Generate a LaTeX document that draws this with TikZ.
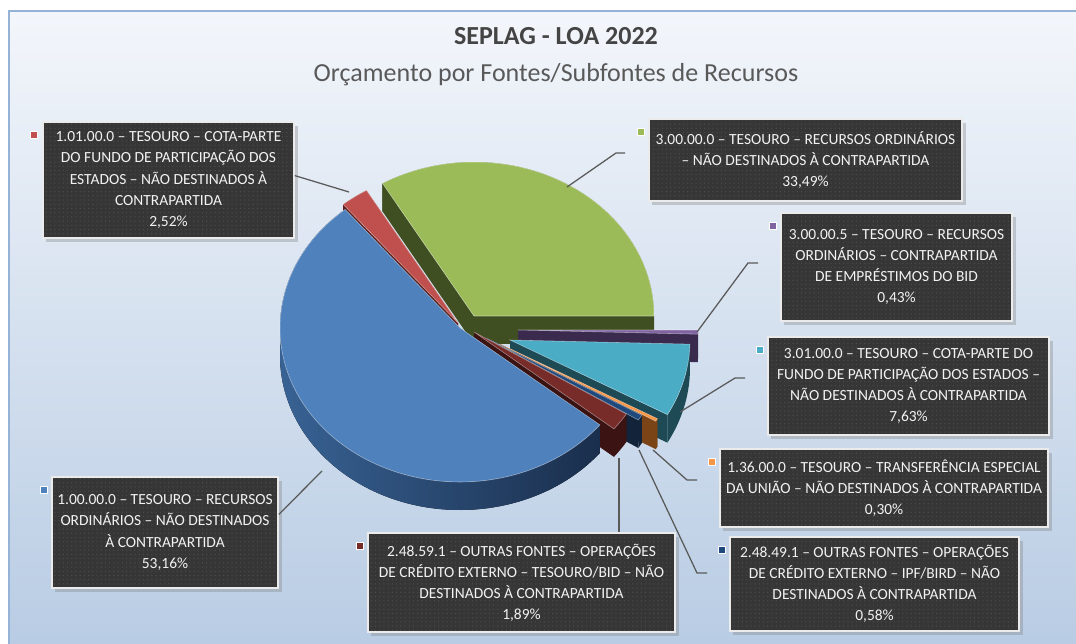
\documentclass[tikz,border=0pt]{standalone}
\usepackage{fontspec}
\setmainfont{Carlito}
\usetikzlibrary{calc, shadows, patterns}

\definecolor{bgtop}{HTML}{F3F6FB}
\definecolor{bgbot}{HTML}{B7CBE3}
\definecolor{framebl}{HTML}{95B3D7}
\definecolor{boxfill}{HTML}{363636}
\definecolor{boxdot}{HTML}{4C4C4C}
\definecolor{leadgray}{HTML}{5A5A5A}
\definecolor{titlegray}{HTML}{444444}
\definecolor{subgray}{HTML}{595959}
\definecolor{grtop}{HTML}{9BBB59}\definecolor{grside}{HTML}{3F4F22}
\definecolor{rdtop}{HTML}{C0504D}\definecolor{rdside}{HTML}{5E1E1C}
\definecolor{bltop}{HTML}{4F81BD}\definecolor{blsideA}{HTML}{3A6699}\definecolor{blsideB}{HTML}{1A2E4C}
\definecolor{mrtop}{HTML}{772C2A}\definecolor{mrside}{HTML}{3A1312}
\definecolor{nvtop}{HTML}{1F497D}\definecolor{nvside}{HTML}{13233A}
\definecolor{ortop}{HTML}{F79646}\definecolor{orside}{HTML}{7A4416}
\definecolor{cytop}{HTML}{4BACC6}\definecolor{cyside}{HTML}{1D4A55}
\definecolor{pptop}{HTML}{8064A2}\definecolor{ppside}{HTML}{3A2B4E}

% #1 shift, #2 from, #3 to, #4 top colour, #5 side options
\newcommand{\pieslice}[5]{%
  \begin{scope}[shift={(#1)}]
    \fill[#5] (466,332) -- ++(0,28) -- ++(-#2:180 and 154) -- ++(0,-28) -- cycle;
    \fill[#5] (466,332) -- ++(0,28) -- ++(-#3:180 and 154) -- ++(0,-28) -- cycle;
    \fill[#5] (466,332) ++(-#2:180 and 154)
      arc[start angle=-#2, end angle=-#3, x radius=180, y radius=154] -- ++(0,28)
      arc[start angle=-#3, end angle=-#2, x radius=180, y radius=154] -- cycle;
    \filldraw[fill=#4, draw=white, draw opacity=.45, line width=.4pt] (466,332) -- ++(-#2:180 and 154)
      arc[start angle=-#2, end angle=-#3, x radius=180, y radius=154] -- cycle;
  \end{scope}}

\begin{document}
\begin{tikzpicture}[
    x=.025cm, y=-.025cm,
    lbl/.style={
        draw=white!92!black, line width=1.1pt, text=white!95!black, align=center,
        font=\fontsize{11}{15}\selectfont, inner sep=2pt,
        drop shadow={shadow xshift=2.5pt, shadow yshift=-2.5pt, opacity=.35},
        preaction={fill=boxfill}, pattern=dots, pattern color=boxdot
    },
    key/.style={
        fill=#1, draw=white, line width=.5pt, inner sep=0pt, minimum size=.17cm
    },
    lead/.style={
        draw=leadgray, line width=.9pt
    }
]

    \useasboundingbox (0,0) rectangle (1076,643);
    \fill[white] (0,0) rectangle (1076,643);
    \fill[top color=bgtop, bottom color=bgbot] (9,11) rectangle (1090,660);
    \draw[framebl, line width=1.5pt] (9,11) rectangle (1090,660);

    \node[font=\fontsize{18.5}{22}\selectfont\bfseries, text=titlegray, anchor=base] (t1) at (556,45) {SEPLAG - LOA 2022};
    \node[font=\fontsize{18.5}{22}\selectfont, text=subgray, anchor=base] (t2) at (556,82) {Orçamento por Fontes/Subfontes de Recursos};

    \pieslice{8,-16}{0}{120.56}{grtop}{grside}
    \pieslice{-8,-9}{120.56}{129.64}{rdtop}{rdside}
    \pieslice{52,-2}{358.45}{360}{pptop}{ppside}
    \pieslice{44,8}{330.99}{358.45}{cytop}{cyside}
    \pieslice{34,12}{329.91}{330.99}{ortop}{orside}
    \pieslice{20,6}{327.82}{329.91}{nvtop}{nvside}
    \pieslice{8,0}{321.02}{327.82}{mrtop}{mrside}
    \pieslice{-6,-4}{129.64}{321.02}{bltop}{left color=blsideA, right color=blsideB}

    \node[lbl, minimum width=6.275cm, minimum height=2.9cm] (l1) at (168.5,180) {1.01.00.0 – TESOURO – COTA-PARTE\\DO FUNDO DE PARTICIPAÇÃO DOS\\ESTADOS – NÃO DESTINADOS À\\CONTRAPARTIDA\\2,52\%};
    \node[lbl, minimum width=7.825cm, minimum height=2.05cm] (l2) at (805.5,160) {3.00.00.0 – TESOURO – RECURSOS ORDINÁRIOS\\– NÃO DESTINADOS À CONTRAPARTIDA\\33,49\%};
    \node[lbl, minimum width=5.775cm, minimum height=2.7cm] (l3) at (896.5,267) {3.00.00.5 – TESOURO – RECURSOS\\ORDINÁRIOS – CONTRAPARTIDA\\DE EMPRÉSTIMOS DO BID\\0,43\%};
    \node[lbl, minimum width=7.025cm, minimum height=2.45cm] (l4) at (908.5,386) {3.01.00.0 – TESOURO – COTA-PARTE DO\\FUNDO DE PARTICIPAÇÃO DOS ESTADOS –\\NÃO DESTINADOS À CONTRAPARTIDA\\7,63\%};
    \node[lbl, minimum width=8.2cm, minimum height=1.95cm] (l5) at (884,488) {1.36.00.0 – TESOURO – TRANSFERÊNCIA ESPECIAL\\DA UNIÃO – NÃO DESTINADOS À CONTRAPARTIDA\\0,30\%};
    \node[lbl, minimum width=7.225cm, minimum height=2.35cm] (l6) at (874.5,584) {2.48.49.1 – OUTRAS FONTES – OPERAÇÕES\\DE CRÉDITO EXTERNO – IPF/BIRD – NÃO\\DESTINADOS À CONTRAPARTIDA\\0,58\%};
    \node[lbl, minimum width=7.675cm, minimum height=2.475cm] (l7) at (521.5,582.5) {2.48.59.1 – OUTRAS FONTES – OPERAÇÕES\\DE CRÉDITO EXTERNO – TESOURO/BID – NÃO\\DESTINADOS À CONTRAPARTIDA\\1,89\%};
    \node[lbl, minimum width=5.65cm, minimum height=2.775cm] (l8) at (165,532.5) {1.00.00.0 – TESOURO – RECURSOS\\ORDINÁRIOS – NÃO DESTINADOS\\À CONTRAPARTIDA\\53,16\%};

    \node[key=rdtop] (k1) at ($(l1.north west)+(-8,14)$) {};
    \node[key=grtop] (k2) at ($(l2.north west)+(-7,14)$) {};
    \node[key=pptop] (k3) at ($(l3.north west)+(-7,14)$) {};
    \node[key=cytop] (k4) at ($(l4.north west)+(-7,14)$) {};
    \node[key=ortop] (k5) at ($(l5.north west)+(-7,14)$) {};
    \node[key=nvtop] (k6) at ($(l6.north west)+(-7,14)$) {};
    \node[key=mrtop] (k7) at ($(l7.north west)+(-7,14)$) {};
    \node[key=bltop] (k8) at ($(l8.north west)+(-7,14)$) {};

    \coordinate (p1) at (349,192);
    \coordinate (p2) at (567,187);
    \coordinate (q2) at (616,153);
    \coordinate (e2) at (625,153);
    \coordinate (p3) at (697,332);
    \coordinate (q3) at (748,263);
    \coordinate (e3) at (758,263);
    \coordinate (p4) at (680,412);
    \coordinate (q4) at (735,378);
    \coordinate (e4) at (745,378);
    \coordinate (p5) at (653,450);
    \coordinate (q5) at (687,480);
    \coordinate (e5) at (697,480);
    \coordinate (p6) at (639,450);
    \coordinate (q6) at (697,573);
    \coordinate (e6) at (707,573);
    \coordinate (p7) at (619,458);
    \coordinate (p8) at (322,471);

    \draw[lead] (l1.2) -- (p1);
    \draw[lead] (p2) -- (q2) -- (e2);
    \draw[lead] (p3) -- (q3) -- (e3);
    \draw[lead] (p4) -- (q4) -- (e4);
    \draw[lead] (p5) -- (q5) -- (e5);
    \draw[lead] (p6) -- (q6) -- (e6);
    \draw[lead] (p7) -- (p7 |- l7.north);
    \draw[lead] (l8.9) -- (p8);

\end{tikzpicture}
\end{document}
